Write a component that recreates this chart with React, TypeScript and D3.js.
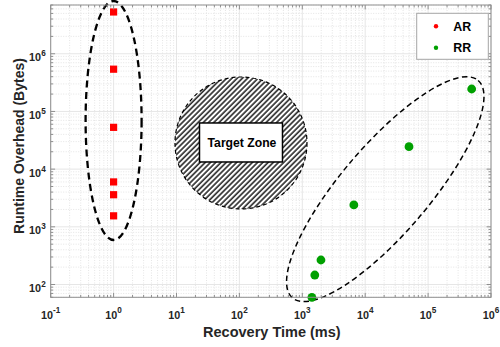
import { useRef, useEffect } from 'react';
import * as d3 from 'd3';

const W = 500;
const H = 347;
const margin = { left: 50.7, top: 5, right: 9, bottom: 49.7 };

// axis limits and tick exponents
const xDomain = [0.1, 1e6];
const yDomain = [60, 7e6];
const xTickExps = [-1, 0, 1, 2, 3, 4, 5, 6];
const yTickExps = [2, 3, 4, 5, 6];

// series: AR (red squares)
const arTime = [1, 1, 1, 1, 1, 1];
const arOverhead = [5.3e6, 5.4e5, 5.3e4, 6.0e3, 3.6e3, 1.55e3];

// series: RR (green circles)
const rrTime = [1420, 1580, 1980, 6600, 49700, 493000];
const rrOverhead = [60, 146, 266, 2400, 24500, 245000];

const seriesNames = ['AR', 'RR'];
const seriesColors = ['#ff0000', '#00a000'];

// annotation centres (data coords)
const arCluster = [1, 6.96e4];
const rrCluster = [20850, 4490];
const targetZone = [106, 2.84e4];
const zoneLabel = 'Target Zone';

const xLabel = 'Recovery Time (ms)';
const yLabel = 'Runtime Overhead (Bytes)';

const FONT = '"Liberation Sans", Arial, Helvetica, sans-serif';
const TEXT = '#262626';
const AXIS = '#8f8f8f';

export default function App() {
  const svgRef = useRef(null);

  useEffect(() => {
    const svg = d3.select(svgRef.current);
    svg.selectAll('*').remove();

    const x = d3.scaleLog().domain(xDomain).range([margin.left, W - margin.right]);
    const y = d3.scaleLog().domain(yDomain).range([H - margin.bottom, margin.top]);
    const [x0, x1] = x.range();
    const [y0, y1] = y.range(); // y0 bottom, y1 top

    const defs = svg.append('defs');
    const pat = defs
      .append('pattern')
      .attr('id', 'hatch')
      .attr('patternUnits', 'userSpaceOnUse')
      .attr('width', 3.7)
      .attr('height', 3.7)
      .attr('patternTransform', 'rotate(45)');
    pat.append('rect').attr('width', 3.7).attr('height', 3.7).attr('fill', '#fff');
    pat
      .append('line')
      .attr('x1', 1)
      .attr('x2', 1)
      .attr('y1', 0)
      .attr('y2', 3.7)
      .attr('stroke', '#000')
      .attr('stroke-width', 1.35);

    svg
      .append('rect')
      .attr('x', x0)
      .attr('y', y1)
      .attr('width', x1 - x0)
      .attr('height', y0 - y1)
      .attr('fill', '#fff');

    // minor grid
    const minorX = [];
    for (let e = -1; e < 6; e++) for (let k = 2; k <= 9; k++) minorX.push(k * 10 ** e);
    const minorY = [];
    for (let e = 1; e < 7; e++)
      for (let k = 2; k <= 9; k++) {
        const v = k * 10 ** e;
        if (v >= yDomain[0] && v <= yDomain[1]) minorY.push(v);
      }

    const grid = svg.append('g').attr('fill', 'none');
    grid
      .selectAll('.mx')
      .data(minorX)
      .join('line')
      .attr('x1', d => x(d))
      .attr('x2', d => x(d))
      .attr('y1', y1)
      .attr('y2', y0)
      .attr('stroke', '#d4d4d4')
      .attr('stroke-width', 0.6)
      .attr('stroke-dasharray', '1,1.5');
    grid
      .selectAll('.my')
      .data(minorY)
      .join('line')
      .attr('x1', x0)
      .attr('x2', x1)
      .attr('y1', d => y(d))
      .attr('y2', d => y(d))
      .attr('stroke', '#d4d4d4')
      .attr('stroke-width', 0.6)
      .attr('stroke-dasharray', '1,1.5');
    grid
      .selectAll('.gx')
      .data(xTickExps)
      .join('line')
      .attr('x1', d => x(10 ** d))
      .attr('x2', d => x(10 ** d))
      .attr('y1', y1)
      .attr('y2', y0)
      .attr('stroke', '#e0e0e0')
      .attr('stroke-width', 0.8);
    grid
      .selectAll('.gy')
      .data(yTickExps)
      .join('line')
      .attr('x1', x0)
      .attr('x2', x1)
      .attr('y1', d => y(10 ** d))
      .attr('y2', d => y(10 ** d))
      .attr('stroke', '#e0e0e0')
      .attr('stroke-width', 0.8);

    // target zone
    const tzx = x(targetZone[0]);
    const tzy = y(targetZone[1]);
    const tzr = 66;
    svg
      .append('circle')
      .attr('cx', tzx)
      .attr('cy', tzy)
      .attr('r', tzr)
      .attr('fill', 'url(#hatch)')
      .attr('stroke', '#000')
      .attr('stroke-width', 1.2)
      .attr('stroke-dasharray', '4,3');
    svg
      .append('rect')
      .attr('x', tzx - 41.5)
      .attr('y', tzy - 20)
      .attr('width', 83)
      .attr('height', 39)
      .attr('fill', '#fff')
      .attr('stroke', '#000')
      .attr('stroke-width', 1.5);
    svg
      .append('text')
      .attr('x', tzx + 1)
      .attr('y', tzy + 4)
      .attr('text-anchor', 'middle')
      .attr('font-family', FONT)
      .attr('font-weight', 'bold')
      .attr('font-size', 12.2)
      .attr('fill', '#000')
      .text(zoneLabel);

    // cluster ellipses
    svg
      .append('ellipse')
      .attr('cx', x(arCluster[0]))
      .attr('cy', y(arCluster[1]))
      .attr('rx', 28)
      .attr('ry', 119.5)
      .attr('fill', 'none')
      .attr('stroke', '#000')
      .attr('stroke-width', 2.3)
      .attr('stroke-dasharray', '7,4.5');
    svg
      .append('ellipse')
      .attr('transform', `translate(${x(rrCluster[0])},${y(rrCluster[1])}) rotate(-49.5)`)
      .attr('rx', 143)
      .attr('ry', 44)
      .attr('fill', 'none')
      .attr('stroke', '#000')
      .attr('stroke-width', 1.5)
      .attr('stroke-dasharray', '5.5,3.5');

    // points
    const ar = arTime.map((t, i) => [t, arOverhead[i]]);
    const rr = rrTime.map((t, i) => [t, rrOverhead[i]]);
    svg
      .append('g')
      .selectAll('rect')
      .data(ar)
      .join('rect')
      .attr('x', d => x(d[0]) - 3.6)
      .attr('y', d => y(d[1]) - 3.6)
      .attr('width', 7.2)
      .attr('height', 7.2)
      .attr('fill', seriesColors[0]);
    svg
      .append('g')
      .selectAll('circle')
      .data(rr)
      .join('circle')
      .attr('cx', d => x(d[0]))
      .attr('cy', d => y(d[1]))
      .attr('r', 4.4)
      .attr('fill', seriesColors[1]);

    // axes box + ticks
    const ax = svg.append('g').attr('stroke', AXIS).attr('fill', 'none');
    ax.append('rect')
      .attr('x', x0)
      .attr('y', y1)
      .attr('width', x1 - x0)
      .attr('height', y0 - y1)
      .attr('stroke-width', 1);
    const tickX = [
      ...xTickExps.map(e => ({ v: 10 ** e, len: 4.4 })),
      ...minorX.map(v => ({ v, len: 2.4 })),
    ];
    const tickY = [
      ...yTickExps.map(e => ({ v: 10 ** e, len: 4.4 })),
      ...minorY.map(v => ({ v, len: 2.4 })),
    ];
    tickX.forEach(t => {
      const px = x(t.v);
      ax.append('line').attr('x1', px).attr('x2', px).attr('y1', y0).attr('y2', y0 - t.len);
      ax.append('line').attr('x1', px).attr('x2', px).attr('y1', y1).attr('y2', y1 + t.len);
    });
    tickY.forEach(t => {
      const py = y(t.v);
      ax.append('line').attr('x1', x0).attr('x2', x0 + t.len).attr('y1', py).attr('y2', py);
      ax.append('line').attr('x1', x1).attr('x2', x1 - t.len).attr('y1', py).attr('y2', py);
    });

    // tick labels
    const lab = svg
      .append('g')
      .attr('font-family', FONT)
      .attr('font-weight', 'bold')
      .attr('fill', TEXT);
    xTickExps.forEach(e => {
      const t = lab
        .append('text')
        .attr('x', x(10 ** e))
        .attr('y', y0 + 21.2)
        .attr('text-anchor', 'middle')
        .attr('font-size', 10.8);
      t.append('tspan').text('10');
      t.append('tspan').attr('dy', -5.8).attr('font-size', 8.2).text(String(e));
    });
    yTickExps.forEach(e => {
      const t = lab
        .append('text')
        .attr('x', x0 - 5)
        .attr('y', y(10 ** e) + 7.6)
        .attr('text-anchor', 'end')
        .attr('font-size', 10.8);
      t.append('tspan').text('10');
      t.append('tspan').attr('dy', -5.2).attr('font-size', 8.2).text(String(e));
    });

    // axis titles
    lab
      .append('text')
      .attr('x', (x0 + x1) / 2 + 1)
      .attr('y', 337)
      .attr('text-anchor', 'middle')
      .attr('font-size', 14.5)
      .text(xLabel);
    lab
      .append('text')
      .attr('transform', `translate(23.5,${146}) rotate(-90)`)
      .attr('text-anchor', 'middle')
      .attr('font-size', 14)
      .text(yLabel);

    // legend
    const lg = svg.append('g');
    lg.append('rect')
      .attr('x', 416.7)
      .attr('y', 13.3)
      .attr('width', 71.6)
      .attr('height', 46)
      .attr('fill', '#fff')
      .attr('stroke', '#a6a6a6')
      .attr('stroke-width', 1);
    seriesNames.forEach((name, i) => {
      const cy = 26.2 + i * 21.6;
      lg.append('circle').attr('cx', 436).attr('cy', cy).attr('r', 2.2).attr('fill', seriesColors[i]);
      lg.append('text')
        .attr('x', 453.3)
        .attr('y', cy + 4.5)
        .attr('font-family', FONT)
        .attr('font-weight', 'bold')
        .attr('font-size', 12.4)
        .attr('fill', '#000')
        .text(name);
    });
  }, []);

  return (
    <div>
      <svg
        ref={svgRef}
        width={W}
        height={H}
        style={{ position: 'absolute', left: 0, top: 0, background: '#fff' }}
      />
    </div>
  );
}
